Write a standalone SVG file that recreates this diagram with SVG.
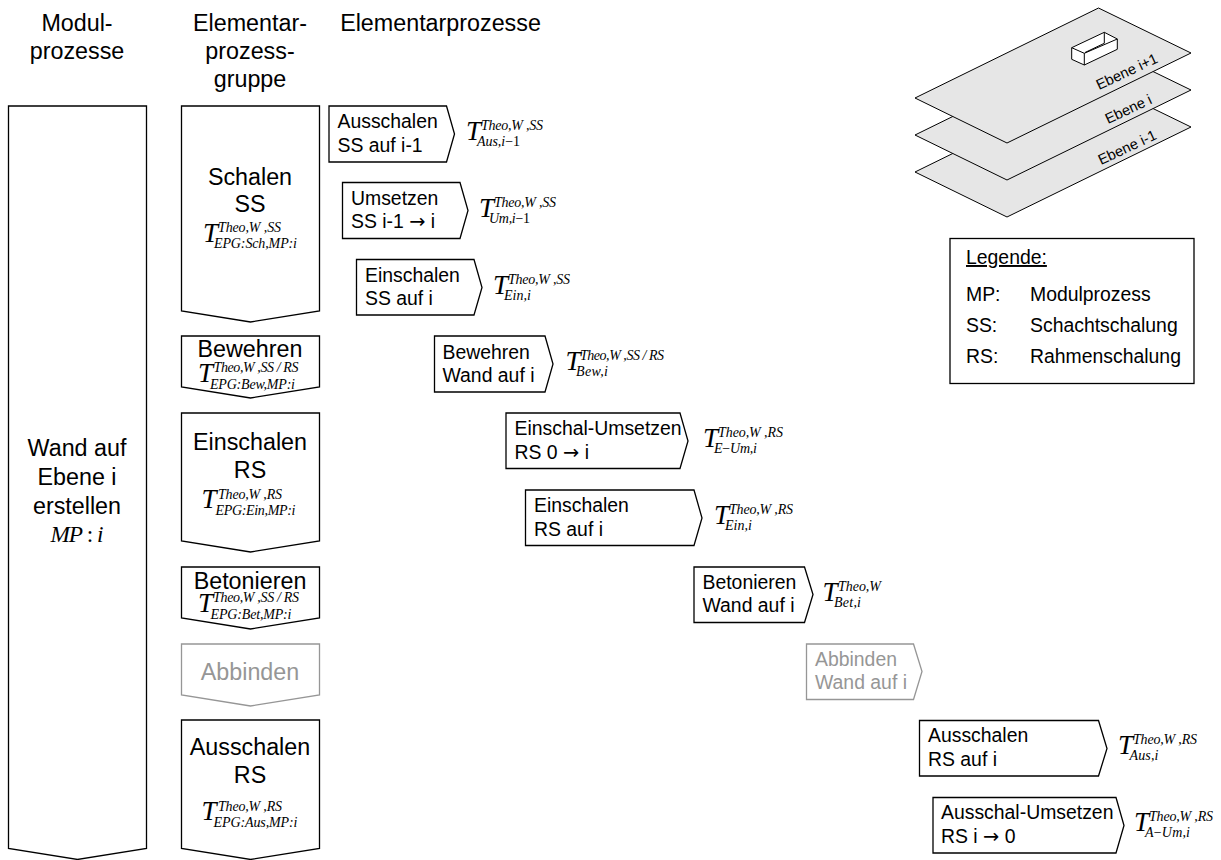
<svg xmlns="http://www.w3.org/2000/svg" width="1221" height="860" viewBox="0 0 1221 860">
<style>
text{font-family:"Liberation Sans",Arial,sans-serif;fill:#000}
.h{font-size:23.300px;text-anchor:middle}
.g{font-size:23.300px;text-anchor:middle}
.e{font-size:19.400px}
.l{font-size:19.400px}
.p{font-size:14.600px}
.box{fill:#fff;stroke:#000;stroke-width:1.3}
.dim{fill:#fff;stroke:#969696;stroke-width:1.3}
.dt{fill:#969696}
.sheet{fill:#e6e6e6;stroke:#000;stroke-width:1}
.m{font-family:"Liberation Serif","Times New Roman",serif;font-style:italic}
.T{font-size:27px}
.s{font-size:14px}
.u{font-style:normal}
.a{font-family:"DejaVu Sans",sans-serif}
</style>
<rect width="1221" height="860" fill="#fff"/>

<!-- column headings -->
<g id="heading-modul"><text class="h" x="77" y="31">Modul-</text><text class="h" x="77" y="59">prozesse</text></g>
<g id="heading-gruppe"><text class="h" x="250" y="31">Elementar-</text><text class="h" x="250" y="59">prozess-</text><text class="h" x="250" y="87">gruppe</text></g>
<g id="heading-elementar"><text class="h" x="440.500" y="31">Elementarprozesse</text></g>

<!-- module process -->
<g id="modul-wand">
<polygon class="box" points="8.500,106 146.500,106 146.500,848.500 77.500,859.500 8.500,848.500"/>
<text class="g" x="77" y="455.500">Wand auf</text><text class="g" x="77" y="485">Ebene i</text><text class="g" x="77" y="513.500">erstellen</text>
<text class="m g" x="77" y="542" textLength="53">MP<tspan class="u"> : </tspan>i</text>
</g>

<!-- process groups -->
<g id="epg-schalen">
<polygon class="box" points="181.500,106 319.500,106 319.500,311 250.500,322 181.500,311"/>
<text class="g" x="250" y="184.500">Schalen</text><text class="g" x="250" y="212">SS</text>
<text class="m T" x="203" y="242">T</text><text class="m s" x="218" y="232" textLength="63">Theo,W ,SS</text><text class="m s" x="214" y="248" textLength="83">EPG:Sch,MP:i</text>
</g>
<g id="epg-bewehren">
<polygon class="box" points="181.500,336 319.500,336 319.500,387 250.500,398 181.500,387"/>
<text class="g" x="250" y="357">Bewehren</text>
<text class="m T" x="198" y="382">T</text><text class="m s" x="213.500" y="372" textLength="85">Theo,W ,SS / RS</text><text class="m s" x="210" y="389" textLength="85">EPG:Bew,MP:i</text>
</g>
<g id="epg-einschalen">
<polygon class="box" points="181.500,413 319.500,413 319.500,541 250.500,552 181.500,541"/>
<text class="g" x="250" y="450">Einschalen</text><text class="g" x="250" y="477.500">RS</text>
<text class="m T" x="201.500" y="508">T</text><text class="m s" x="218" y="499" textLength="64">Theo,W ,RS</text><text class="m s" x="215.500" y="515" textLength="80">EPG:Ein,MP:i</text>
</g>
<g id="epg-betonieren">
<polygon class="box" points="181.500,567 319.500,567 319.500,618 250.500,629 181.500,618"/>
<text class="g" x="250" y="589">Betonieren</text>
<text class="m T" x="198" y="612">T</text><text class="m s" x="213" y="602" textLength="86">Theo,W ,SS / RS</text><text class="m s" x="210.500" y="619" textLength="81">EPG:Bet,MP:i</text>
</g>
<g id="epg-abbinden">
<polygon class="dim" points="181.500,644 319.500,644 319.500,695 250.500,706 181.500,695"/>
<text class="g dt" x="250" y="680">Abbinden</text>
</g>
<g id="epg-ausschalen">
<polygon class="box" points="181.500,720 319.500,720 319.500,848.500 250.500,859.500 181.500,848.500"/>
<text class="g" x="250" y="755">Ausschalen</text><text class="g" x="250" y="783">RS</text>
<text class="m T" x="201.500" y="820">T</text><text class="m s" x="218" y="811" textLength="64">Theo,W ,RS</text><text class="m s" x="213.500" y="827" textLength="84">EPG:Aus,MP:i</text>
</g>

<!-- elementary processes -->
<g id="ep-ausschalen-ss">
<polygon class="box" points="329,106 446.500,106 454.500,134 446.500,162 329,162"/>
<text class="e" x="337.500" y="128">Ausschalen</text><text class="e" x="337.500" y="152">SS auf i-1</text>
<text class="m T" x="466" y="140">T</text><text class="m s" x="481" y="130" textLength="62">Theo,W ,SS</text><text class="m s" x="477" y="146" textLength="43">Aus,i<tspan class="u">−1</tspan></text>
</g>
<g id="ep-umsetzen-ss">
<polygon class="box" points="342.500,182.500 460,182.500 468,210.500 460,238.500 342.500,238.500"/>
<text class="e" x="351" y="205">Umsetzen</text><text class="e" x="351" y="228">SS i-1 <tspan class="a">→</tspan> i</text>
<text class="m T" x="479" y="217">T</text><text class="m s" x="494" y="207" textLength="62">Theo,W ,SS</text><text class="m s" x="489" y="223" textLength="41">Um,i<tspan class="u">−1</tspan></text>
</g>
<g id="ep-einschalen-ss">
<polygon class="box" points="356.500,259.500 474,259.500 482,287.500 474,315 356.500,315"/>
<text class="e" x="365" y="282">Einschalen</text><text class="e" x="365" y="305">SS auf i</text>
<text class="m T" x="493" y="294">T</text><text class="m s" x="508" y="284" textLength="62">Theo,W ,SS</text><text class="m s" x="504" y="300" textLength="27">Ein,i</text>
</g>
<g id="ep-bewehren">
<polygon class="box" points="434.500,336 545,336 553,364 545,392 434.500,392"/>
<text class="e" x="442.500" y="359">Bewehren</text><text class="e" x="442.500" y="382">Wand auf i</text>
<text class="m T" x="565.500" y="370">T</text><text class="m s" x="580" y="360" textLength="84">Theo,W ,SS / RS</text><text class="m s" x="576" y="376" textLength="32">Bew,i</text>
</g>
<g id="ep-einschal-umsetzen">
<polygon class="box" points="506,413 680,413 688,441 680,468.500 506,468.500"/>
<text class="e" x="514.500" y="435">Einschal-Umsetzen</text><text class="e" x="514.500" y="459">RS 0 <tspan class="a">→</tspan> i</text>
<text class="m T" x="703" y="447">T</text><text class="m s" x="718" y="437" textLength="65">Theo,W ,RS</text><text class="m s" x="714" y="453" textLength="43">E<tspan class="u">−</tspan>Um,i</text>
</g>
<g id="ep-einschalen-rs">
<polygon class="box" points="525.500,490 694,490 702,518 694,545.500 525.500,545.500"/>
<text class="e" x="534" y="512">Einschalen</text><text class="e" x="534" y="536">RS auf i</text>
<text class="m T" x="714" y="524">T</text><text class="m s" x="729" y="514" textLength="64">Theo,W ,RS</text><text class="m s" x="725" y="530" textLength="27">Ein,i</text>
</g>
<g id="ep-betonieren">
<polygon class="box" points="694,567 804.500,567 813,594.500 804.500,622.500 694,622.500"/>
<text class="e" x="702.500" y="589">Betonieren</text><text class="e" x="702.500" y="612">Wand auf i</text>
<text class="m T" x="822.500" y="601">T</text><text class="m s" x="838" y="591" textLength="43">Theo,W</text><text class="m s" x="834" y="607" textLength="27">Bet,i</text>
</g>
<g id="ep-abbinden">
<polygon class="dim" points="806.500,644 913.500,644 922,671.500 913.500,699.500 806.500,699.500"/>
<text class="e dt" x="815" y="666">Abbinden</text><text class="e dt" x="815" y="689">Wand auf i</text>
</g>
<g id="ep-ausschalen-rs">
<polygon class="box" points="919.500,720.500 1098.500,720.500 1107,748.500 1098.500,776 919.500,776"/>
<text class="e" x="928" y="742">Ausschalen</text><text class="e" x="928" y="766">RS auf i</text>
<text class="m T" x="1118" y="754">T</text><text class="m s" x="1133" y="744" textLength="64">Theo,W ,RS</text><text class="m s" x="1129.500" y="760" textLength="29">Aus,i</text>
</g>
<g id="ep-ausschal-umsetzen">
<polygon class="box" points="933,797.500 1116,797.500 1124,825.500 1116,853 933,853"/>
<text class="e" x="941" y="819">Ausschal-Umsetzen</text><text class="e" x="941" y="843">RS i <tspan class="a">→</tspan> 0</text>
<text class="m T" x="1134" y="831">T</text><text class="m s" x="1149" y="821" textLength="64">Theo,W ,RS</text><text class="m s" x="1145" y="837" textLength="45">A<tspan class="u">−</tspan>Um,i</text>
</g>

<!-- stacked floor slabs -->
<g id="ebenen">
<polygon class="sheet" points="1098.500,82 1191,127 1007,217 915,172"/>
<text class="p" transform="translate(1101,165) rotate(-25)">Ebene i-1</text>
<polygon class="sheet" points="1098.500,45 1191,90 1007,180 915,135"/>
<text class="p" transform="translate(1108,124) rotate(-25)">Ebene i</text>
<polygon class="sheet" points="1098.500,8 1191,53 1007,143 915,98"/>
<text class="p" transform="translate(1099,90) rotate(-25)">Ebene i+1</text>
<g fill="#fff" stroke="#000" stroke-width="1">
<polygon points="1071.700,47.700 1104.300,32.300 1117.300,39 1117.300,49.300 1084.300,65 1071.700,59.300"/>
<path d="M1071.700,47.700 L1084.300,53.300 L1117.300,39 M1084.300,53.300 V65 M1104.300,32.300 V43.300 L1085,52.500" fill="none"/>
</g>
</g>

<!-- legend -->
<g id="legende">
<rect class="box" x="950" y="238.500" width="244" height="145"/>
<text class="l" x="966" y="264" text-decoration="underline">Legende:</text>
<text class="l" x="966" y="301">MP:</text><text class="l" x="1030" y="301">Modulprozess</text>
<text class="l" x="966" y="332">SS:</text><text class="l" x="1030" y="332">Schachtschalung</text>
<text class="l" x="966" y="363">RS:</text><text class="l" x="1030" y="363">Rahmenschalung</text>
</g>
</svg>
